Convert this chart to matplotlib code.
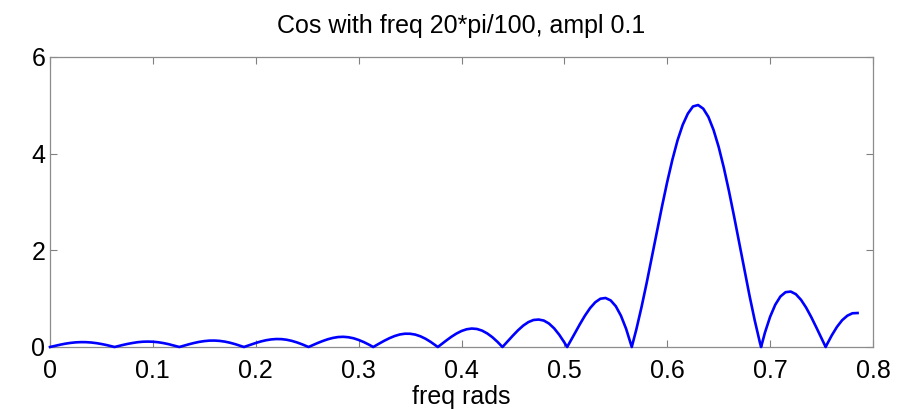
import numpy as np
import matplotlib
matplotlib.use("Agg")
import matplotlib.pyplot as plt

step = 0.005
mag = [
    0.000, 0.025, 0.048, 0.069, 0.085, 0.096, 0.101, 0.100, 0.093, 0.080,
    0.062, 0.040, 0.015, 0.012, 0.038, 0.062, 0.082, 0.099, 0.109, 0.112,
    0.109, 0.099, 0.082, 0.060, 0.033, 0.004, 0.026, 0.056, 0.083, 0.106,
    0.122, 0.132, 0.133, 0.126, 0.111, 0.088, 0.059, 0.025, 0.011, 0.048,
    0.083, 0.115, 0.140, 0.157, 0.165, 0.163, 0.150, 0.127, 0.095, 0.056,
    0.012, 0.034, 0.081, 0.123, 0.160, 0.188, 0.206, 0.211, 0.202, 0.181,
    0.146, 0.102, 0.049, 0.010, 0.071, 0.130, 0.183, 0.227, 0.259, 0.275,
    0.274, 0.257, 0.222, 0.171, 0.106, 0.032, 0.049, 0.131, 0.209, 0.277,
    0.331, 0.367, 0.382, 0.373, 0.339, 0.281, 0.203, 0.106, 0.004, 0.121,
    0.237, 0.347, 0.443, 0.515, 0.559, 0.568, 0.547, 0.486, 0.387, 0.254,
    0.093, 0.086, 0.277, 0.469, 0.649, 0.805, 0.925, 0.999, 1.014, 0.964,
    0.843, 0.647, 0.377, 0.037, 0.368, 0.827, 1.327, 1.853, 2.389, 2.918,
    3.419, 3.876, 4.276, 4.595, 4.828, 4.977, 5.006, 4.931, 4.760, 4.491,
    4.138, 3.709, 3.224, 2.698, 2.149, 1.597, 1.059, 0.554, 0.097, 0.300,
    0.626, 0.875, 1.045, 1.134, 1.147, 1.093, 0.977, 0.815, 0.618, 0.401,
    0.176, 0.044, 0.244, 0.417, 0.554, 0.647, 0.698, 0.703,
]
# the cusps where the curve touches zero
null_freqs = [0.0628, 0.1257, 0.1885, 0.2513, 0.3142, 0.3770,
              0.4398, 0.5027, 0.5655, 0.6912, 0.7540]

xticks = [0, 0.1, 0.2, 0.3, 0.4, 0.5, 0.6, 0.7, 0.8]
yticks = [0, 2, 4, 6]

freq = np.arange(len(mag)) * step
x = np.concatenate([freq, null_freqs])
y = np.concatenate([mag, np.zeros(len(null_freqs))])
order = np.argsort(x, kind="stable")
x, y = x[order], y[order]

plt.rcParams["font.family"] = ["Liberation Sans", "DejaVu Sans"]

fig = plt.figure(figsize=(8.98, 4.09), dpi=100)
ax = fig.add_axes([50 / 898, 1 - 347 / 409, 823 / 898, 290 / 409])
ax.plot(x, y, color="#0000ff", lw=1.9, clip_on=False, zorder=3)

ax.set_xlim(0, 0.8)
ax.set_ylim(0, 6)
ax.set_xticks(xticks)
ax.set_xticklabels(["0" if t == 0 else f"{t:g}" for t in xticks])
ax.set_yticks(yticks)
ax.tick_params(direction="in", length=5, width=0.8, color="#808080",
               labelsize=18, top=True, right=True)
ax.tick_params(axis="x", pad=9)
ax.tick_params(axis="y", pad=3.5)
for s in ax.spines.values():
    s.set_color("#8c8c8c")
    s.set_linewidth(0.9)

ax.set_title("Cos with freq 20*pi/100, ampl 0.1", fontsize=18, pad=17)
ax.set_xlabel("freq rads", fontsize=18, labelpad=1)

fig.savefig("out.png", dpi=100)
